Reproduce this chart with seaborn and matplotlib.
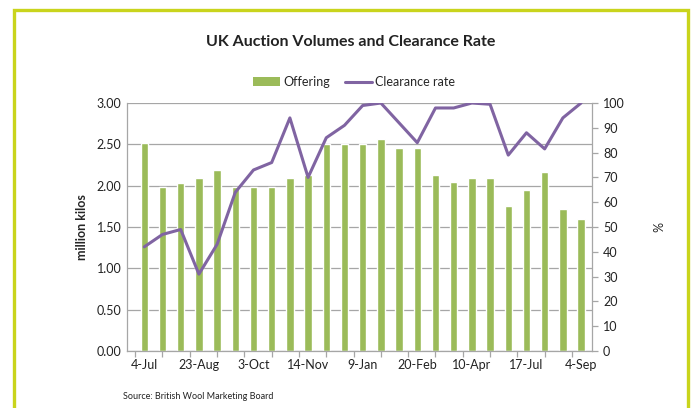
import matplotlib
matplotlib.use("Agg")
import matplotlib.pyplot as plt
from matplotlib.patches import Rectangle, Patch
from matplotlib.lines import Line2D
import numpy as np
import pandas as pd
import seaborn as sns

# auction dates, only every third one is labelled on the chart
tick_labels = ["4-Jul", "23-Aug", "3-Oct", "14-Nov", "9-Jan",
               "20-Feb", "10-Apr", "17-Jul", "4-Sep"]

# offering (million kilos), one bar per auction
offering = [2.52, 1.99, 2.03, 2.09, 2.19, 1.99, 1.99, 1.99, 2.09, 2.13,
            2.50, 2.50, 2.50, 2.57, 2.45, 2.45, 2.13, 2.04, 2.09, 2.09,
            1.75, 1.95, 2.17, 1.72, 1.60]

# clearance rate (%)
clearance = [42, 47, 49, 31, 43, 64, 73, 76, 94, 70,
             86, 91, 99, 100, 92, 84, 98, 98, 100, 99.5,
             79, 88, 81.5, 94, 100]

df = pd.DataFrame({"auction": np.arange(len(offering)),
                   "offering": offering,
                   "clearance": clearance})

sns.set_theme(style="white")
plt.rcParams["font.family"] = ["Lato", "DejaVu Sans"]

bar_color = "#9bbb59"
line_color = "#8064a2"
grid_color = "#a6a6a6"

fig = plt.figure(figsize=(6.91, 4.08), dpi=100)
ax = fig.add_axes([0.1838, 0.1397, 0.6729, 0.6078])

sns.barplot(data=df, x="auction", y="offering", color=bar_color,
            width=0.4, saturation=1, ax=ax, zorder=2)

ax2 = ax.twinx()
sns.lineplot(data=df, x="auction", y="clearance", color=line_color,
             linewidth=2.2, ax=ax2, zorder=3)

# left axis
ax.set_ylim(0, 3)
ax.set_yticks(np.arange(0, 3.01, 0.5))
ax.set_yticklabels([f"{v:.2f}" for v in np.arange(0, 3.01, 0.5)])
ax.yaxis.grid(True, color=grid_color, linewidth=0.9, zorder=0)
ax.set_axisbelow(True)
ax.set_ylabel("million kilos", fontsize=9, fontweight="bold", labelpad=6)
ax.set_xlabel("")

# right axis
ax2.set_ylim(0, 100)
ax2.set_yticks(np.arange(0, 101, 10))
ax2.set_ylabel("%", fontsize=9, rotation=270, labelpad=22, va="center")
ax2.set_xlabel("")

# x axis: labels every third auction, tick marks every 1.5 slots
ax.set_xlim(-0.95, 24.6)
ax2.set_xlim(-0.95, 24.6)
ax.set_xticks(np.arange(0, 25, 3))
ax.set_xticklabels(tick_labels)
ax.set_xticks(np.arange(-0.5, 24.6, 1.5), minor=True)
ax.tick_params(axis="x", which="major", length=0, labelsize=9, pad=6, colors="#222222")
ax.tick_params(axis="x", which="minor", length=4, color=grid_color, width=0.9,
               bottom=True, direction="out")
ax.tick_params(axis="y", length=0, labelsize=9, colors="#222222", pad=4)
ax2.tick_params(axis="y", length=4, width=0.9, color=grid_color, labelsize=9,
                colors="#222222", right=True, direction="out", pad=4)
ax2.tick_params(axis="y", which="major", color=grid_color)

for a in (ax, ax2):
    for s in ("top",):
        a.spines[s].set_visible(False)
    for s in ("left", "bottom", "right"):
        a.spines[s].set_color(grid_color)
        a.spines[s].set_linewidth(0.9)
ax.spines["right"].set_visible(False)
ax2.spines["left"].set_visible(False)
ax2.spines["bottom"].set_visible(False)

fig.text(0.507, 0.897, "UK Auction Volumes and Clearance Rate",
         ha="center", va="center", fontsize=11.5, fontweight="bold",
         color="#222222")

handles = [Patch(facecolor=bar_color, edgecolor="none", label="Offering"),
           Line2D([0], [0], color=line_color, linewidth=2.2, label="Clearance rate")]
fig.legend(handles=handles, loc="center", bbox_to_anchor=(0.512, 0.799), ncol=2,
           frameon=False, fontsize=9, handlelength=2.2, handleheight=0.7,
           handletextpad=0.2, columnspacing=1.2)

fig.text(0.178, 0.027, "Source: British Wool Marketing Board",
         ha="left", va="center", fontsize=6.5, color="#222222")

# outer yellow-green frame
fig.patches.append(Rectangle((14 / 691, -0.1), 674 / 691, 1.1 - 10 / 408,
                             transform=fig.transFigure, fill=False,
                             edgecolor="#c9d41c", linewidth=2.4))

fig.savefig("out.png", dpi=100, facecolor="white")
